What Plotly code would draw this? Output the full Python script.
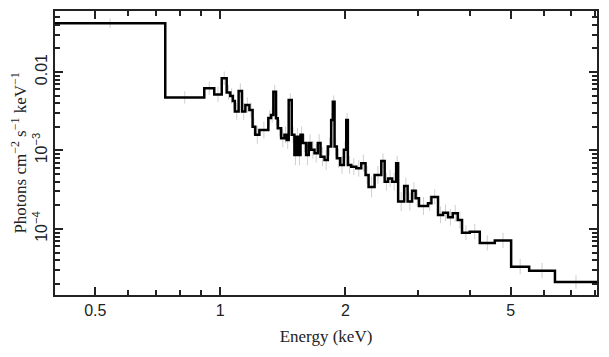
import numpy as np
import plotly.graph_objects as go

# Bin edges (keV)
energy_edges = [0.40, 0.737, 0.915, 0.967, 1.008, 1.036, 1.057, 1.072, 1.084, 1.107,
                1.128, 1.149, 1.175, 1.196, 1.214, 1.242, 1.305, 1.325, 1.342, 1.362,
                1.375, 1.401, 1.427, 1.445, 1.461, 1.486, 1.508, 1.525, 1.542, 1.560,
                1.579, 1.609, 1.633, 1.655, 1.686, 1.717, 1.743, 1.782, 1.815, 1.849,
                1.866, 1.884, 1.908, 1.944, 1.984, 2.010, 2.028, 2.067, 2.125, 2.184,
                2.237, 2.275, 2.352, 2.441, 2.487, 2.535, 2.592, 2.651, 2.680, 2.771,
                2.825, 2.896, 2.953, 3.008, 3.162, 3.223, 3.343, 3.438, 3.534, 3.627,
                3.729, 3.819, 3.987, 4.214, 4.580, 5.014, 5.541, 6.392, 8.07]

# Flux per bin (photons cm^-2 s^-1 keV^-1)
flux = [0.0417, 0.00473, 0.00620, 0.00517, 0.00831, 0.00548, 0.00495, 0.00427, 0.00314, 0.00573,
        0.00314, 0.00380, 0.00328, 0.00201, 0.00158, 0.00182, 0.00259, 0.00283, 0.00561, 0.00257,
        0.00192, 0.00143, 0.00158, 0.00136, 0.00440, 0.00158, 0.000876, 0.00149, 0.000876, 0.00158,
        0.00124, 0.000876, 0.00124, 0.00102, 0.000921, 0.00124, 0.000834, 0.000757, 0.00112, 0.00245,
        0.00418, 0.00112, 0.000795, 0.000654, 0.00102, 0.00245, 0.000654, 0.000622, 0.000593, 0.000687,
        0.000487, 0.000343, 0.000487, 0.000735, 0.000400, 0.000440, 0.000400, 0.000687, 0.000223, 0.000353,
        0.000223, 0.000307, 0.000246, 0.000196, 0.000212, 0.000256, 0.000151, 0.000161, 0.000141, 0.000158,
        0.000130, 0.0000897, 0.0000924, 0.0000663, 0.0000714, 0.0000331, 0.0000294, 0.0000211]

# Relative 1-sigma errors per bin
rel_err = [0.15, 0.20, 0.22, 0.25, 0.22, 0.25, 0.25, 0.25, 0.28, 0.25,
           0.28, 0.25, 0.25, 0.28, 0.30, 0.28, 0.25, 0.25, 0.22, 0.25,
           0.28, 0.30, 0.28, 0.30, 0.22, 0.28, 0.35, 0.30, 0.35, 0.28,
           0.30, 0.35, 0.30, 0.30, 0.32, 0.30, 0.32, 0.35, 0.30, 0.22,
           0.20, 0.30, 0.32, 0.30, 0.28, 0.22, 0.30, 0.28, 0.28, 0.28,
           0.30, 0.35, 0.30, 0.25, 0.30, 0.28, 0.30, 0.25, 0.32, 0.28,
           0.30, 0.28, 0.28, 0.30, 0.25, 0.25, 0.28, 0.28, 0.28, 0.28,
           0.28, 0.25, 0.25, 0.25, 0.25, 0.25, 0.25, 0.22]

x_tickvals = [0.5, 1, 2, 5]
x_ticktext = ["0.5", "1", "2", "5"]
x_minor = [0.6, 0.7, 0.8, 0.9, 3, 4, 6, 7, 8]
y_tickvals = [0.01, 1e-3, 1e-4]
y_ticktext = ["0.01", "10<sup>−3</sup>", "10<sup>−4</sup>"]
y_minor = [m * 10.0 ** p for p in (-5, -4, -3, -2) for m in range(2, 10)]

edges = np.array(energy_edges)
f = np.array(flux)
err = np.array(rel_err)
centers = np.sqrt(edges[:-1] * edges[1:])

fig = go.Figure()
fig.add_trace(go.Scatter(
    x=centers, y=f, mode="markers",
    marker=dict(size=1, color="rgba(0,0,0,0)"),
    error_y=dict(type="data", array=f * err, arrayminus=f * err / (1 + err),
                 color="#cfcfcf", thickness=1, width=0),
    showlegend=False, hoverinfo="skip"))
fig.add_trace(go.Scatter(
    x=list(edges), y=list(f) + [f[-1]], mode="lines",
    line=dict(shape="hv", color="black", width=2.5),
    showlegend=False))

axis_common = dict(showline=True, linecolor="#222", linewidth=1.5, mirror="ticks",
                   ticks="inside", tickcolor="#222", tickwidth=1.5, showgrid=False,
                   zeroline=False, automargin=False,
                   tickfont=dict(family="Liberation Sans", size=16, color="#222"))

fig.update_xaxes(type="log", range=[np.log10(0.40), np.log10(8.07)],
                 tickmode="array", tickvals=x_tickvals, ticktext=x_ticktext, ticklen=8,
                 minor=dict(tickmode="array", tickvals=x_minor, ticks="inside", ticklen=5,
                            tickwidth=1.5, tickcolor="#222", showgrid=False),
                 title=dict(text="Energy (keV)", font=dict(family="Liberation Serif", size=17, color="#222"),
                            standoff=12),
                 **axis_common)
fig.update_yaxes(type="log", range=[np.log10(1.44e-5), np.log10(0.0598)],
                 tickmode="array", tickvals=y_tickvals, ticktext=y_ticktext, ticklen=8,
                 tickangle=-90,
                 minor=dict(tickmode="array", tickvals=y_minor, ticks="inside", ticklen=5,
                            tickwidth=1.5, tickcolor="#222", showgrid=False),
                 title=dict(text="Photons cm<sup>−2</sup> s<sup>−1</sup> keV<sup>−1</sup>",
                            font=dict(family="Liberation Serif", size=17, color="#222"), standoff=2),
                 **axis_common)

# page body has an 8px default margin; sizes/margins compensate for it
fig.update_layout(width=601, height=349, margin=dict(l=47, r=12, t=3, b=62),
                  plot_bgcolor="white", paper_bgcolor="white")
fig.write_html("out.html")
